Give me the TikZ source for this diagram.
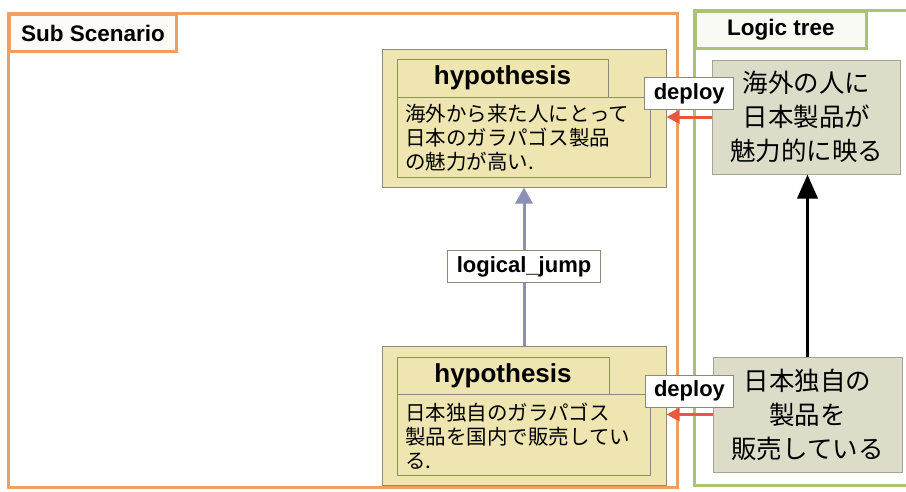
\documentclass[tikz,border=0pt]{standalone}
\usepackage{fontspec}
\setmainfont{Liberation Sans}
\newfontfamily\jp{Noto Sans CJK JP}
\usetikzlibrary{arrows.meta}

\definecolor{subOrange}{HTML}{EEA064}
\definecolor{treeGreen}{HTML}{A9C46C}
\definecolor{hypFill}{HTML}{EFE5B0}
\definecolor{hypLine}{HTML}{8C8A78}
\definecolor{nodeFill}{HTML}{DCDCC8}
\definecolor{nodeLine}{HTML}{A4A494}
\definecolor{deployRed}{HTML}{E8583C}
\definecolor{jumpBlue}{HTML}{8C90B4}

\tikzset{
  frame/.style={draw, line width=3pt, rectangle, inner sep=0pt, outer sep=0pt},
  tab/.style={draw, line width=3pt, rectangle, anchor=north west, minimum height=37pt,
    inner sep=0pt, font=\bfseries\fontsize{22.5}{26}\selectfont},
  hypbox/.style={draw=hypLine, fill=hypFill, line width=1pt, rectangle, inner sep=0pt},
  hyptitle/.style={hypbox, font=\bfseries\fontsize{26}{30}\selectfont},
  hyptext/.style={anchor=west, align=left, inner sep=0pt, font=\jp\fontsize{20.5}{24}\selectfont},
  treebox/.style={draw=nodeLine, fill=nodeFill, line width=1pt, rectangle, inner sep=0pt,
    align=center, font=\jp\fontsize{25.5}{34}\selectfont},
  relname/.style={draw=hypLine, fill=white, line width=1pt, rectangle, inner xsep=9pt,
    inner ysep=0pt, minimum height=32pt, font=\bfseries\fontsize{22}{26}\selectfont},
  deployarrow/.style={draw=deployRed, line width=3pt,
    -{Triangle[length=13pt,width=13pt]}},
  jumparrow/.style={draw=jumpBlue, line width=3pt,
    -{Triangle[length=16pt,width=17pt]}},
  treearrow/.style={draw=black, line width=3.5pt,
    -{Triangle[length=24pt,width=20pt]}}
}

\begin{document}
\begin{tikzpicture}[x=1pt, y=-1pt]
  \clip (0,0) rectangle (906,491);
  \fill[white] (0,0) rectangle (906,491);

  % Sub Scenario frame and its title tab
  \node[frame, draw=subOrange, minimum width=669pt, minimum height=474pt] (sub) at (342.5,250) {};
  \node[tab, draw=subOrange, fill=white!92!subOrange!60!white, minimum width=167pt]
    (subtab) at (sub.north west) {Sub Scenario};

  % Logic tree frame and its title tab
  \node[frame, draw=treeGreen, minimum width=230pt, minimum height=475pt] (tree) at (809,247.5) {};
  \node[tab, draw=treeGreen, fill=white!92!treeGreen, minimum width=171pt]
    (treetab) at (tree.north west) {Logic tree};

  % upper hypothesis
  \node[hypbox, minimum width=284pt, minimum height=138pt] (h1) at (524,118) {};
  \node[hyptitle, minimum width=211pt, minimum height=38pt] (h1t) at (502.5,78) {hypothesis};
  \node[hypbox, minimum width=253pt, minimum height=80pt] (h1b) at (523.5,137) {};
  \node[hyptext] (h1x) at (405,138) {海外から来た人にとって\\日本のガラパゴス製品\\の魅力が高い.};

  % lower hypothesis
  \node[hypbox, minimum width=284pt, minimum height=139pt] (h2) at (524,415.5) {};
  \node[hyptitle, minimum width=212pt, minimum height=37pt] (h2t) at (503,375.5) {hypothesis};
  \node[hypbox, minimum width=253pt, minimum height=81pt] (h2b) at (523.5,434.5) {};
  \node[hyptext] (h2x) at (405,436) {日本独自のガラパゴス\\製品を国内で販売してい\\る.};

  % logic tree nodes
  \node[treebox, minimum width=188pt, minimum height=114pt] (t1) at (806.5,117)
    {海外の人に\\日本製品が\\魅力的に映る};
  \node[treebox, minimum width=189pt, minimum height=115pt] (t2) at (807.5,414.5)
    {日本独自の\\製品を\\販売している};

  % connectors
  \draw[treearrow] (t2.north) -- (t2.north |- t1.south);
  \draw[jumparrow] (h2.north) -- node[relname] (jump) {logical\_jump} (h1.south);
  \draw[deployarrow] (t1.west) -- node[relname, above=7pt] (dep1) {deploy} (h1.east |- t1.west);
  \draw[deployarrow] (t2.west) -- node[relname, above=7pt] (dep2) {deploy} (h2.east |- t2.west);
\end{tikzpicture}
\end{document}
